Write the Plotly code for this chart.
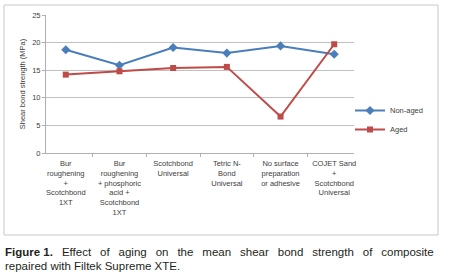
import plotly.graph_objects as go

categories = [
    "Bur<br>roughening<br>+<br>Scotchbond<br>1XT",
    "Bur<br>roughening<br>+ phosphoric<br>acid +<br>Scotchbond<br>1XT",
    "Scotchbond<br>Universal",
    "Tetric N-<br>Bond<br>Universal",
    "No surface<br>preparation<br>or adhesive",
    "COJET Sand<br>+<br>Scotchbond<br>Universal",
]
non_aged = [18.7, 15.9, 19.1, 18.1, 19.4, 17.9]
aged = [14.2, 14.8, 15.4, 15.6, 6.6, 19.7]
y_ticks = [0, 5, 10, 15, 20, 25]

W, H = 449, 278
L, R, T, B = 46, 95, 15, 125
pw = W - L - R
ph = H - T - B

def px_x(px):
    return (px - L) / pw

def px_y(py):
    return (H - B - py) / ph

fig = go.Figure()
fig.add_trace(go.Scatter(
    x=categories, y=non_aged, name="Non-aged", mode="lines+markers",
    line=dict(color="#4a7ebb", width=2),
    marker=dict(symbol="diamond", size=7, color="#4a7ebb"),
))
fig.add_trace(go.Scatter(
    x=categories, y=aged, name="Aged", mode="lines+markers",
    line=dict(color="#be4b48", width=2),
    marker=dict(symbol="square", size=6, color="#be4b48"),
))

tick_font = dict(family="Liberation Sans Narrow, Liberation Sans, Arial", size=7.5, color="#404040")
legend_font = dict(family="Liberation Sans Narrow, Liberation Sans, Arial", size=7.5, color="#404040")

cap1_words = "Effect of aging on the mean shear bond strength of composite".split(" ")
gap = " \u2002"
cap1 = "<b>Figure 1.</b>" + gap + gap.join(cap1_words)

fig.update_layout(
    width=W, height=H,
    margin=dict(l=L, r=R, t=T, b=B),
    paper_bgcolor="white", plot_bgcolor="white",
    showlegend=True,
    legend=dict(x=px_x(350), y=px_y(96), xanchor="left", yanchor="top",
                font=legend_font, bgcolor="rgba(0,0,0,0)", itemwidth=30,
                tracegroupgap=0),
    xaxis=dict(
        type="category", tickfont=tick_font, showgrid=False,
        showline=True, linecolor="#b0b0b0", linewidth=1,
        ticks="outside", tickson="boundaries", ticklen=3, tickcolor="#b0b0b0",
        tickangle=0, fixedrange=True, ticklabelstandoff=3,
    ),
    yaxis=dict(
        range=[0, 25], tickvals=y_ticks, tickfont=tick_font,
        showgrid=True, gridcolor="#c0c0c0", gridwidth=1,
        showline=True, linecolor="#b0b0b0", linewidth=1,
        ticks="outside", ticklen=3, tickcolor="#b0b0b0",
        zeroline=False,
        title=dict(text="Shear bond strength (MPa)", font=tick_font, standoff=5),
    ),
    shapes=[
        dict(type="rect", xref="paper", yref="paper",
             x0=px_x(4), x1=px_x(438), y0=px_y(235), y1=px_y(5),
             line=dict(color="#c8c8c8", width=1), fillcolor="rgba(0,0,0,0)",
             layer="below"),
    ],
    annotations=[
        dict(xref="paper", yref="paper", x=px_x(3), y=px_y(252.5),
             xanchor="left", yanchor="middle", showarrow=False,
             text=cap1,
             font=dict(family="Liberation Sans, Arial", size=11.5, color="#231f20")),
        dict(xref="paper", yref="paper", x=px_x(3), y=px_y(265.5),
             xanchor="left", yanchor="middle", showarrow=False,
             text="repaired with Filtek Supreme XTE.",
             font=dict(family="Liberation Sans, Arial", size=11.5, color="#231f20")),
    ],
)

fig.write_html("out.html", config={"displayModeBar": False},
               post_script="document.body.style.margin='0';")
